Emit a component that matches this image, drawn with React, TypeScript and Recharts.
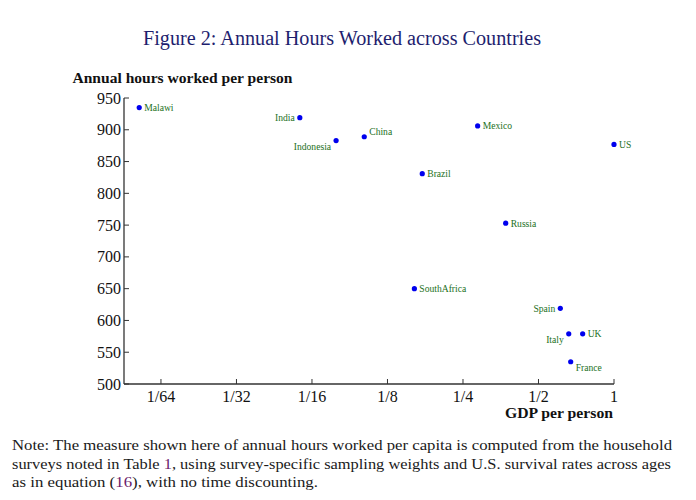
import React from 'react';
import { ScatterChart, Scatter, XAxis, YAxis } from 'recharts';

// ---- data ----
const countries = ['Malawi', 'India', 'Indonesia', 'China', 'Mexico', 'US', 'Brazil', 'Russia', 'SouthAfrica', 'Spain', 'Italy', 'UK', 'France'];
const gdpPerPerson = [0.0128, 0.0559, 0.078, 0.101, 0.286, 1, 0.172, 0.37, 0.16, 0.611, 0.66, 0.75, 0.672];
const annualHours = [935, 919, 883, 889, 906, 877, 831, 753, 650, 619, 579, 579, 535];

const xTickValues = [1 / 64, 1 / 32, 1 / 16, 1 / 8, 1 / 4, 1 / 2, 1];
const xTickLabels = ['1/64', '1/32', '1/16', '1/8', '1/4', '1/2', '1'];
const yTickValues = [500, 550, 600, 650, 700, 750, 800, 850, 900, 950];

const titleText = 'Figure 2: Annual Hours Worked across Countries';
const yAxisTitle = 'Annual hours worked per person';
const xAxisTitle = 'GDP per person';

// label placement (style only)
type Side = 'r' | 'l' | 'lb' | 'ra' | 'rb';
const labelSide: Record<string, Side> = {
  Malawi: 'r', India: 'l', Indonesia: 'lb', China: 'ra', Mexico: 'r', US: 'r', Brazil: 'r',
  Russia: 'r', SouthAfrica: 'r', Spain: 'l', Italy: 'lb', UK: 'r', France: 'rb',
};

const data = countries.map((name, i) => ({ name, gdp: gdpPerPerson[i], hours: annualHours[i] }));

const SERIF = '"Liberation Serif", "Times New Roman", serif';
const AXIS = '#333';
const LABEL_GREEN = '#1c701c';

const PointShape = (props: any) => {
  const { cx, cy, payload } = props;
  if (cx == null || cy == null) return null;
  const side = labelSide[payload.name] || 'r';
  let dx = 5;
  let dy = 3.3;
  let anchor: 'start' | 'end' = 'start';
  if (side === 'l') { dx = -5; anchor = 'end'; }
  if (side === 'lb') { dx = -5; dy = 9.7; anchor = 'end'; }
  if (side === 'ra') { dx = 5; dy = -2; }
  if (side === 'rb') { dx = 5; dy = 9; }
  return (
    <g>
      <circle cx={cx} cy={cy} r={2.6} fill="#0000ee" />
      <text x={cx + dx} y={cy + dy} textAnchor={anchor} fontSize={9.6} fontFamily={SERIF} fill={LABEL_GREEN}>
        {payload.name}
      </text>
    </g>
  );
};

const XTick = (props: any) => {
  const { x, y, payload } = props;
  const idx = xTickValues.findIndex((v) => Math.abs(v - payload.value) < 1e-9);
  const label = idx >= 0 ? xTickLabels[idx] : String(payload.value);
  return (
    <g>
      <line x1={x} y1={y} x2={x} y2={y - 5} stroke={AXIS} strokeWidth={1} />
      <text x={x} y={y + 18} textAnchor="middle" fontSize={16} fontFamily={SERIF} fill="#111">
        {label}
      </text>
    </g>
  );
};

const YTick = (props: any) => {
  const { x, y, payload } = props;
  return (
    <g>
      <line x1={x} y1={y} x2={x + 5} y2={y} stroke={AXIS} strokeWidth={1} />
      <text x={x - 3} y={y + 5.5} textAnchor="end" fontSize={16} fontFamily={SERIF} fill="#111">
        {payload.value}
      </text>
    </g>
  );
};

export default function App() {
  return (
    <div style={{ position: 'absolute', left: 0, top: 0, width: 696, height: 500, background: '#fff' }}>
      <div style={{ position: 'absolute', left: 0, top: 0 }}>
        <ScatterChart width={696} height={500} margin={{ top: 98, right: 82, bottom: 86, left: 64 }}>
          <XAxis
            type="number"
            dataKey="gdp"
            scale="log"
            domain={[0.01113, 1]}
            ticks={xTickValues}
            interval={0}
            height={30}
            tickSize={0}
            tickMargin={0}
            tickLine={false}
            tick={<XTick />}
            axisLine={{ stroke: AXIS, strokeWidth: 1.3 }}
          />
          <YAxis
            type="number"
            dataKey="hours"
            domain={[500, 950]}
            ticks={yTickValues}
            interval={0}
            width={60}
            tickSize={0}
            tickMargin={0}
            tickLine={false}
            tick={<YTick />}
            axisLine={{ stroke: AXIS, strokeWidth: 1.3 }}
          />
          <Scatter data={data} isAnimationActive={false} shape={PointShape} />
        </ScatterChart>
      </div>
      <svg width={696} height={500} style={{ position: 'absolute', left: 0, top: 0, pointerEvents: 'none' }}>
        <text x={143} y={45} fontSize={20} fontFamily={SERIF} fill="#1e1e6e" textLength={398} lengthAdjust="spacingAndGlyphs">
          {titleText}
        </text>
        <text x={72.5} y={83} fontSize={15.5} fontWeight="bold" fontFamily={SERIF} fill="#111" textLength={220} lengthAdjust="spacingAndGlyphs">
          {yAxisTitle}
        </text>
        <text x={505} y={418} fontSize={15.5} fontWeight="bold" fontFamily={SERIF} fill="#111" textLength={108} lengthAdjust="spacingAndGlyphs">
          {xAxisTitle}
        </text>
        <text x={12} y={450} fontSize={15.5} fontFamily={SERIF} fill="#1a1a1a" textLength={660} lengthAdjust="spacingAndGlyphs">
          Note: The measure shown here of annual hours worked per capita is computed from the household
        </text>
        <text x={12} y={469} fontSize={15.5} fontFamily={SERIF} fill="#1a1a1a" textLength={659} lengthAdjust="spacingAndGlyphs">
          surveys noted in Table <tspan fill="#6a1a6a">1</tspan>, using survey-specific sampling weights and U.S. survival rates across ages
        </text>
        <text x={12} y={487} fontSize={15.5} fontFamily={SERIF} fill="#1a1a1a" textLength={306} lengthAdjust="spacingAndGlyphs">
          as in equation (<tspan fill="#6a1a6a">16</tspan>), with no time discounting.
        </text>
      </svg>
    </div>
  );
}
